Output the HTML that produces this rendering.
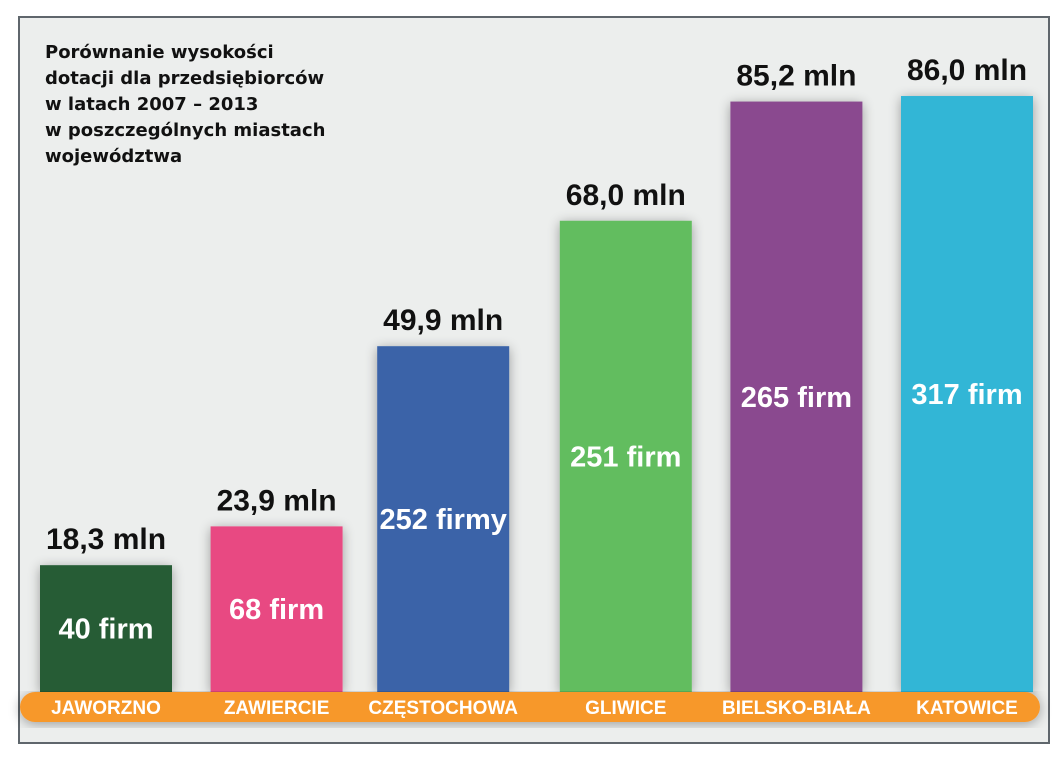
<!DOCTYPE html>
<html><head><meta charset="utf-8">
<style>
html,body{margin:0;padding:0;background:#fff;}
svg{display:block;}
.lbl{font-family:"Liberation Sans Narrow","Liberation Sans",sans-serif;font-weight:bold;}
</style></head>
<body>
<svg id="chart" width="1064" height="768" viewBox="0 0 1064 768">
  <defs>
    <filter id="sh" x="-30%" y="-10%" width="160%" height="130%">
      <feGaussianBlur in="SourceAlpha" stdDeviation="6"/>
      <feOffset dx="0" dy="2"/>
      <feComponentTransfer><feFuncA type="linear" slope="0.35"/></feComponentTransfer>
      <feMerge><feMergeNode/><feMergeNode in="SourceGraphic"/></feMerge>
    </filter>
  </defs>
  <rect x="19" y="17" width="1030" height="726" fill="#eceeed" stroke="#5f666c" stroke-width="2"/>
  <g font-family="'DejaVu Sans','Liberation Sans',sans-serif" font-weight="bold" font-size="18" fill="#111">
    <text x="45" y="58">Porównanie wysokości</text>
    <text x="45" y="84">dotacji dla przedsiębiorców</text>
    <text x="45" y="110">w latach 2007 – 2013</text>
    <text x="45" y="136">w poszczególnych miastach</text>
    <text x="45" y="162">województwa</text>
  </g>
  <g id="bars"></g>
  <rect x="20" y="692" width="1020" height="30" rx="15" fill="#f7982b" filter="url(#sh)"/>
  <g id="cats"></g>
</svg>
<script>
const categories = ["JAWORZNO","ZAWIERCIE","CZĘSTOCHOWA","GLIWICE","BIELSKO-BIAŁA","KATOWICE"];
const values = [18.3, 23.9, 49.9, 68.0, 85.2, 86.0];
const valueLabels = ["18,3 mln","23,9 mln","49,9 mln","68,0 mln","85,2 mln","86,0 mln"];
const firmLabels = ["40 firm","68 firm","252 firmy","251 firm","265 firm","317 firm"];
const colors = ["#285c34","#e84a82","#3a64a8","#62bd5f","#8a4a8f","#32b6d6"];

const NS="http://www.w3.org/2000/svg";
const baseY=692, pxPerUnit=6.93, x0=40, step=170.6, bw=132;
const yScale=v=>baseY-v*pxPerUnit;
const xScale=i=>x0+i*step+(i>=3?8:0)+(i>=2&&i<3?-4:0);
const gb=document.getElementById('bars'), gc=document.getElementById('cats');
function mk(tag,attrs){const e=document.createElementNS(NS,tag);for(const k in attrs)e.setAttribute(k,attrs[k]);return e;}
values.forEach((v,i)=>{
  const x=xScale(i), y=yScale(v), cx=x+bw/2;
  const r=mk('rect',{x:x,y:y,width:bw,height:baseY-y,fill:colors[i],filter:'url(#sh)'});
  
  
  gb.appendChild(r);
  const t=mk('text',{x:cx,y:y-16,'text-anchor':'middle','font-size':30,fill:'#111',class:'lbl'});
  t.textContent=valueLabels[i];
  
  
  gb.appendChild(t);
  const f=mk('text',{x:cx,y:(y+baseY)/2+10,'text-anchor':'middle','font-size':29,fill:'#fff',class:'lbl'});
  f.textContent=firmLabels[i];
  
  
  gb.appendChild(f);
  const c=mk('text',{x:cx,y:714,'text-anchor':'middle','font-size':19,fill:'#fff',class:'lbl'});
  c.textContent=categories[i];
  
  
  gc.appendChild(c);
});
</script>
</body></html>
